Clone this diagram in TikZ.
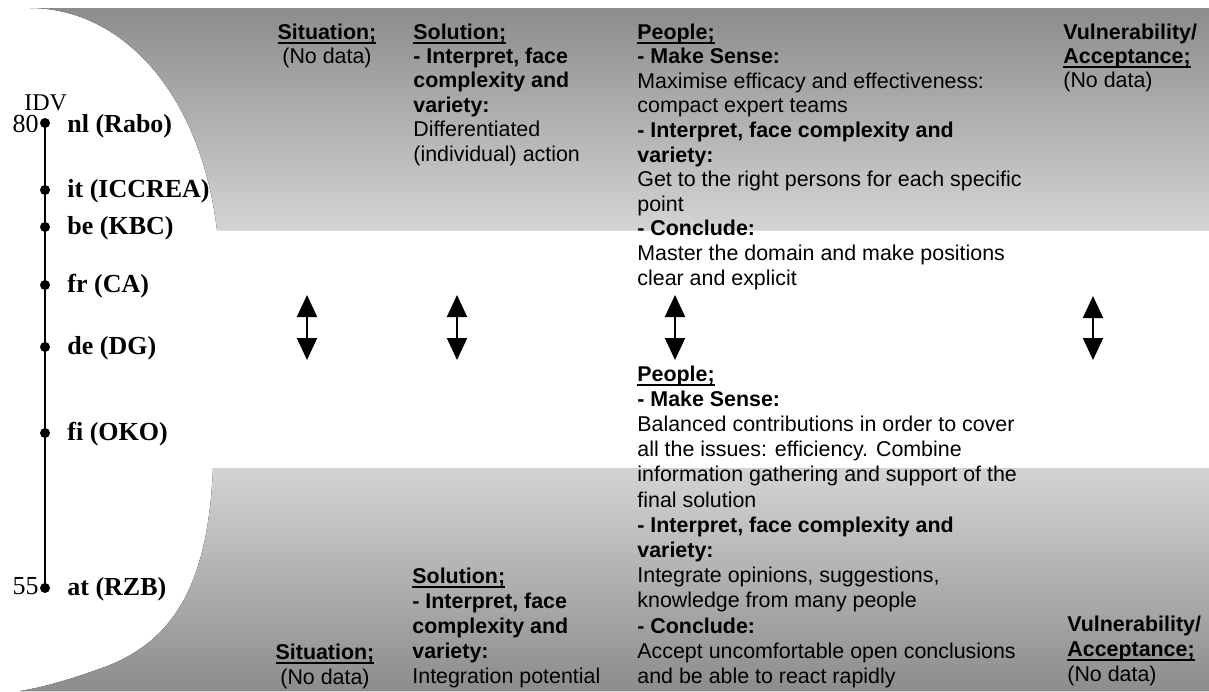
\documentclass[tikz,border=0pt]{standalone}
\usepackage{fontspec}
\usetikzlibrary{arrows.meta}
\newfontfamily\arialf{Liberation Sans}
\newfontfamily\timesf{Liberation Serif}
\definecolor{banddark}{gray}{0.55}
\definecolor{bandlight}{gray}{0.83}
% text block whose first baseline sits on the node's base anchor
\newcommand\txtblock[3]{\parbox[t]{#1}{\raggedright\arialf\fontsize{10.7pt}{#2}\selectfont #3}}
\newcommand\txtcenter[3]{\parbox[t]{#1}{\centering\arialf\fontsize{10.7pt}{#2}\selectfont #3}}
% bold heading with a close, heavy underline
\newsavebox\hdbox
\newcommand\hd[1]{\leavevmode\sbox\hdbox{\bfseries #1}\rlap{\rule[-2.4pt]{\wd\hdbox}{0.9pt}}\usebox\hdbox}
\begin{document}
\begin{tikzpicture}[x=0.5pt,y=-0.5pt,
  blk/.style={inner sep=0pt, anchor=base west},
  cblk/.style={inner sep=0pt, anchor=base},
  dotm/.style={circle, fill=black, inner sep=0pt, minimum size=5pt},
  lbl/.style={anchor=west, inner sep=0pt, font=\timesf\bfseries\fontsize{13pt}{15pt}\selectfont},
  num/.style={anchor=east, inner sep=0pt, font=\timesf\fontsize{13pt}{15pt}\selectfont},
  dbl/.style={line width=1pt, {Triangle[width=10pt,length=11pt]}-{Triangle[width=10pt,length=11pt]}}]
\fill[white] (0,0) rectangle (1209,691);
\useasboundingbox (0,0) rectangle (1209,691);

% shaded bands
\fill[top color=banddark, bottom color=bandlight]
  (30,8) -- (1209,8) -- (1209,230) -- (217,230) .. controls (200,90) and (120,8) .. (30,8) -- cycle;
\fill[top color=bandlight, bottom color=banddark]
  (213,468) -- (1209,468) -- (1209,691) -- (20,691) .. controls (40,688) and (70,680) .. (110,665)
  .. controls (170,640) and (208,590) .. (213,468) -- cycle;

% IDV scale
\node[anchor=base west, inner sep=0pt, font=\timesf\fontsize{12pt}{14pt}\selectfont] (idv) at (24,110) {IDV};
\node[dotm] (d1) at (45,123) {};
\node[dotm] (d2) at (45,190) {};
\node[dotm] (d3) at (45,227) {};
\node[dotm] (d4) at (45,285) {};
\node[dotm] (d5) at (45,347) {};
\node[dotm] (d6) at (45,433) {};
\node[dotm] (d7) at (45,588) {};
\draw[line width=1pt] (d1.center) -- (d7.center);
\node[num] (n80) at (39,124) {80};
\node[num] (n55) at (39,586) {55};
\node[lbl] (l1) at (67,126) {nl (Rabo)};
\node[lbl] (l2) at (67,191) {it (ICCREA)};
\node[lbl] (l3) at (67,228) {be (KBC)};
\node[lbl] (l4) at (67,286) {fr (CA)};
\node[lbl] (l5) at (67,348) {de (DG)};
\node[lbl] (l6) at (67,434) {fi (OKO)};
\node[lbl] (l7) at (67,589) {at (RZB)};

% upper row
\node[cblk] (sitTop) at (327,39) {\txtcenter{80pt}{12.2pt}{\hd{Situation;}\\(No data)}};
\node[blk] (solTop) at (413,39) {\txtblock{150pt}{12.2pt}{\hd{Solution;}\\
  \textbf{- Interpret, face}\\ \textbf{complexity and}\\ \textbf{variety:}\\
  Differentiated\\ (individual) action}};
\node[blk] (pplTop) at (637,39) {\txtblock{230pt}{12.3pt}{\hd{People;}\\
  \textbf{- Make Sense:}\\
  Maximise efficacy and effectiveness:\\ compact expert teams\\
  \textbf{- Interpret, face complexity and}\\ \textbf{variety:}\\
  Get to the right persons for each specific\\ point\\
  \textbf{- Conclude:}\\
  Master the domain and make positions\\ clear and explicit}};
\node[blk] (vulTop) at (1063,39) {\txtblock{80pt}{12.2pt}{\textbf{Vulnerability/}\\
  \hd{Acceptance;}\\ (No data)}};

% lower row
\node[cblk] (sitBot) at (325,659) {\txtcenter{80pt}{12.5pt}{\hd{Situation;}\\(No data)}};
\node[blk] (solBot) at (412,583) {\txtblock{150pt}{12.5pt}{\hd{Solution;}\\
  \textbf{- Interpret, face}\\ \textbf{complexity and}\\ \textbf{variety:}\\
  Integration potential}};
\node[blk] (pplBot) at (637,381) {\txtblock{230pt}{12.6pt}{\hd{People;}\\
  \textbf{- Make Sense:}\\
  Balanced contributions in order to cover\\ all the issues: efficiency. Combine\\
  information gathering and support of the\\ final solution\\
  \textbf{- Interpret, face complexity and}\\ \textbf{variety:}\\
  Integrate opinions, suggestions,\\ knowledge from many people\\
  \textbf{- Conclude:}\\
  Accept uncomfortable open conclusions\\ and be able to react rapidly}};
\node[blk] (vulBot) at (1067,631) {\txtblock{80pt}{12.5pt}{\textbf{Vulnerability/}\\
  \hd{Acceptance;}\\ (No data)}};

% links between the two rows
\coordinate (a1t) at (307,295); \coordinate (a1b) at (307,360);
\coordinate (a2t) at (457,295); \coordinate (a2b) at (457,360);
\coordinate (a3t) at (675,295); \coordinate (a3b) at (675,360);
\coordinate (a4t) at (1093,296); \coordinate (a4b) at (1093,360);
\draw[dbl] (a1t) -- (a1b);
\draw[dbl] (a2t) -- (a2b);
\draw[dbl] (a3t) -- (a3b);
\draw[dbl] (a4t) -- (a4b);
\end{tikzpicture}
\end{document}
